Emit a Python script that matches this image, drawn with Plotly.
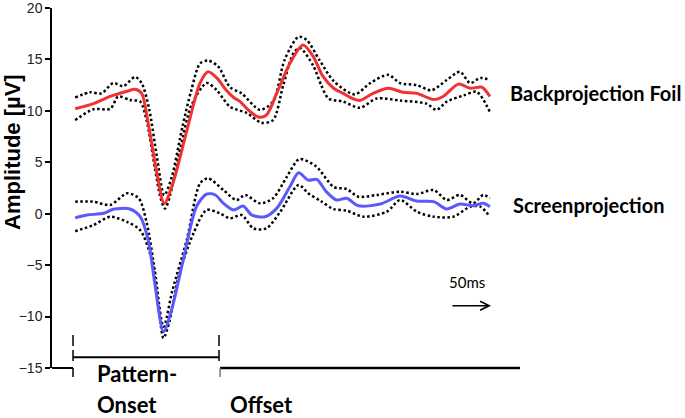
import plotly.graph_objects as go

# ---------------- data (time in ms from pattern onset, amplitude in µV) ----------------
back_t = [3, 28, 51, 74, 85, 94, 103, 115, 125, 137, 156, 174, 185, 197, 210, 220, 229, 240, 254, 265,
          279, 297, 315, 329, 342, 357, 370, 383, 393, 411, 432, 452, 471, 494, 507, 528, 544, 560, 571]
back_mean = [10.2, 10.7, 11.4, 11.9, 12.1, 11.7, 8.8, 3.9, 1.0, 3.0, 8.1, 12.7, 13.8, 13.2, 12.0, 11.3, 10.9,
             10.1, 9.4, 9.6, 11.7, 14.6, 16.4, 15.3, 13.4, 12.2, 11.7, 11.2, 11.0, 11.7, 12.2, 11.8, 11.7,
             11.1, 11.4, 12.6, 12.2, 12.3, 11.4]

back_up_t = [3, 23, 39, 55, 69, 85, 94, 104, 115, 125, 135, 150, 162, 174, 185, 199, 215, 231, 256, 274,
             290, 309, 320, 338, 357, 386, 407, 432, 448, 471, 491, 512, 530, 544, 558, 571]
back_up = [11.3, 11.8, 11.7, 12.7, 12.4, 13.3, 12.7, 10.3, 5.5, 1.8, 3.5, 8.5, 12.0, 14.6, 14.9, 14.3, 12.3,
           11.7, 10.1, 10.9, 15.0, 17.2, 16.9, 14.9, 12.9, 11.6, 12.7, 13.5, 12.7, 12.5, 12.0, 13.0, 13.8,
           12.7, 13.2, 13.0]

back_lo_t = [3, 28, 51, 62, 78, 92, 101, 112, 120, 126, 133, 146, 162, 183, 197, 215, 238, 258, 274, 288,
             302, 311, 329, 340, 350, 370, 393, 416, 448, 484, 498, 512, 535, 553, 571]
back_lo = [9.1, 10.15, 10.2, 11.4, 11.05, 10.9, 9.0, 4.5, 1.5, 0.5, 1.8, 6.0, 10.5, 12.7, 12.0, 10.4, 9.8,
           8.85, 9.1, 12.5, 15.6, 16.1, 14.4, 12.5, 11.2, 10.9, 10.3, 11.2, 11.0, 10.7, 10.1, 10.9, 11.5,
           11.85, 9.9]

scr_t = [3, 19, 42, 55, 78, 92, 103, 112, 124, 135, 151, 169, 183, 195, 206, 220, 233, 245, 263, 279,
         297, 309, 322, 334, 347, 361, 375, 391, 421, 448, 471, 494, 512, 530, 548, 562, 571]
scr_mean = [-0.4, -0.13, 0.04, 0.43, 0.46, -0.29, -2.56, -6.76, -11.47, -9.36, -4.5, 0.68, 1.91, 1.82, 1.01,
            0.36, 0.75, -0.13, -0.29, 0.52, 2.62, 3.98, 3.27, 3.34, 2.14, 1.33, 1.5, 0.77, 0.94, 1.72, 1.23,
            1.17, 0.46, 0.94, 0.78, 1.01, 0.68]

scr_up_t = [3, 28, 51, 74, 90, 101, 112, 124, 136, 156, 174, 185, 206, 224, 236, 256, 274, 293, 310, 333,
            357, 375, 391, 416, 448, 471, 494, 512, 530, 548, 562, 571]
scr_up = [1.17, 1.17, 0.85, 1.98, 1.5, -0.9, -5.5, -11.0, -7.5, -2.5, 2.95, 3.44, 2.3, 1.33, 1.82, 1.01, 1.5,
          3.6, 5.3, 4.6, 2.6, 2.4, 1.65, 1.82, 2.14, 1.91, 2.3, 1.33, 1.82, 1.01, 1.82, 1.5]

scr_lo_t = [3, 28, 51, 74, 92, 108, 117, 124, 132, 145, 165, 183, 201, 215, 231, 247, 265, 284, 309, 322,
            340, 357, 375, 398, 430, 448, 471, 494, 521, 544, 558, 571]
scr_lo = [-1.7, -1.1, -0.3, -0.8, -1.6, -4.5, -9.0, -12.1, -10.5, -6.0, -1.9, 0.36, 0.04, -0.45, -0.13,
          -1.42, -1.42, 0.2, 2.8, 2.0, 1.2, 0.45, 0.3, -0.29, 0.2, 1.33, 0.2, -0.29, -0.29, 0.68, 0.68, -0.29]

y_ticks = [-15, -10, -5, 0, 5, 10, 15, 20]
events = [0, 200]          # pattern onset / offset (ms)
scale_bar_ms = 50
x_range = [-28.8, 612.3]

RED = "#F03232"
BLUE = "#5A5AFA"

fig = go.Figure()

def band(t, v):
    fig.add_trace(go.Scatter(x=t, y=v, mode="lines",
                             line=dict(color="black", width=2.5, dash="2.5px,2.5px",
                                       shape="spline", smoothing=0.8),
                             hoverinfo="skip", showlegend=False))

def mean(t, v, c):
    fig.add_trace(go.Scatter(x=t, y=v, mode="lines",
                             line=dict(color=c, width=3, shape="spline", smoothing=0.8),
                             showlegend=False))

band(back_up_t, back_up)
band(back_lo_t, back_lo)
mean(back_t, back_mean, RED)
band(scr_up_t, scr_up)
band(scr_lo_t, scr_lo)
mean(scr_t, scr_mean, BLUE)

# ---------------- bottom time markers ----------------
onset, offset = events
line_k = dict(color="black", width=2)
shapes = [
    dict(type="line", xref="x", yref="paper", x0=x_range[0], x1=onset, y0=0, y1=0, line=line_k),
    dict(type="line", xref="x", yref="paper", x0=onset, x1=onset, y0=0, y1=-0.025,
         line=dict(color="black", width=1.5)),
    dict(type="line", xref="x", yref="paper", x0=onset, x1=offset, y0=0.03, y1=0.03, line=line_k),
    dict(type="line", xref="x", yref="paper", x0=onset, x1=onset, y0=0.092, y1=0.019,
         line=dict(color="black", width=1.5, dash="11px,4px")),
    dict(type="line", xref="x", yref="paper", x0=offset, x1=offset, y0=0.092, y1=0.019,
         line=dict(color="black", width=1.5, dash="11px,4px")),
    dict(type="line", xref="x", yref="paper", x0=offset + 1.5, x1=x_range[1], y0=0, y1=0,
         line=dict(color="black", width=2.5)),
    dict(type="line", xref="x", yref="paper", x0=offset + 1.5, x1=offset + 1.5, y0=0, y1=-0.025,
         line=dict(color="#777777", width=1.5)),
]

LBL = dict(family="Lato, 'Open Sans', sans-serif", size=20, color="black", weight="bold")
BIG = dict(family="Lato, 'Open Sans', sans-serif", size=22, color="black", weight="bold")
annotations = [
    dict(text="Amplitude [µV]", xref="paper", yref="paper", x=-0.0855, y=0.6, textangle=-90,
         xanchor="center", yanchor="middle", showarrow=False,
         font=dict(family="Liberation Sans, Arial", size=22, color="black", weight="bold")),
    dict(text="Backprojection Foil", xref="paper", yref="y", x=0.975, y=11.7, xanchor="left",
         showarrow=False, font=LBL),
    dict(text="Screenprojection", xref="paper", yref="y", x=0.98, y=0.85, xanchor="left",
         showarrow=False, font=LBL),
    dict(text="Pattern-", xref="x", yref="paper", x=onset + 30, y=-0.016, xanchor="left",
         yanchor="middle", showarrow=False, font=BIG),
    dict(text="Onset", xref="x", yref="paper", x=onset + 30, y=-0.1, xanchor="left",
         yanchor="middle", showarrow=False, font=BIG),
    dict(text="Offset", xref="x", yref="paper", x=offset + 12, y=-0.1, xanchor="left",
         yanchor="middle", showarrow=False, font=BIG),
    dict(text="", xref="x", yref="paper", x=572.6, y=0.173, ax=-40, ay=0, axref="pixel", ayref="pixel",
         showarrow=True, arrowhead=5, arrowwidth=1.6, arrowsize=1.1, arrowcolor="black"),
    dict(text=f"{scale_bar_ms}ms", xref="x", yref="paper", x=540, y=0.209, showarrow=False,
         font=dict(family="Lato, 'Open Sans', sans-serif", size=15, color="black")),
]

fig.update_layout(
    width=685, height=418,
    margin=dict(l=52, r=165, t=8, b=50, autoexpand=False),
    paper_bgcolor="white", plot_bgcolor="white",
    showlegend=False,
    shapes=shapes, annotations=annotations,
    xaxis=dict(range=x_range, visible=False, showgrid=False, zeroline=False, automargin=False),
    yaxis=dict(range=[-15, 20], tickvals=y_ticks, ticks="outside", ticklen=5, tickwidth=1.5,
               tickcolor="black", showline=True, linecolor="black", linewidth=1.5,
               showgrid=False, zeroline=False, automargin=False, ticklabeloverflow="allow",
               tickfont=dict(family="Liberation Sans, Arial", size=14, color="#222222")),
)

fig.write_html("out.html", config={"displayModeBar": False},
               post_script="document.body.style.margin='0px';")
